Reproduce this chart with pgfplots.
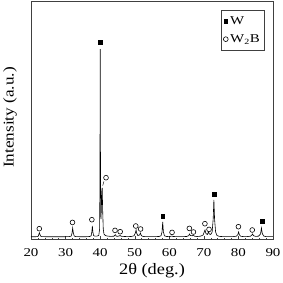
\documentclass[border=0pt]{standalone}
\usepackage{fontspec}
\setmainfont{Liberation Serif}
\usepackage{graphicx}
\usepackage{pgfplots}
\pgfplotsset{compat=1.18}
\newcommand\sx[1]{\scalebox{1.25}[1]{#1}}
\newcommand\sy[1]{\scalebox{1.15}[1]{#1}}
\begin{document}
\begin{tikzpicture}
\useasboundingbox (-31bp,-44bp) rectangle (252bp,239bp);
\begin{axis}[
  scale only axis, width=242bp, height=238bp,
  xmin=20, xmax=90, ymin=-2, ymax=236,
  xtick={20,30,...,90}, minor x tick num=4,
  xticklabels={\sx{20},\sx{30},\sx{40},\sx{50},\sx{60},\sx{70},\sx{80},\sx{90}},
  ytick=\empty, xtick pos=bottom, tick align=inside,
  major tick length=3bp, minor tick length=1.5bp,
  axis line style={black!75, line width=0.6pt},
  every tick/.style={black!75, line width=0.4pt},
  xticklabel style={font=\fontsize{12}{14}\selectfont, anchor=north, yshift=-6bp},
  xlabel={\sy{2θ (deg.)}}, ylabel={\sy{Intensity (a.u.)}},
  xlabel style={font=\fontsize{16}{18}\selectfont, at={(axis description cs:0.5,-0.10)}, anchor=north, inner sep=0pt},
  ylabel style={font=\fontsize{15}{17}\selectfont, at={(axis description cs:-0.058,0.51)}, anchor=south, inner sep=0pt},
  legend style={at={(axis description cs:0.963,0.962)}, anchor=north east,
    draw=black!75, inner xsep=2pt, inner ysep=4pt,
    row sep=5pt, legend cell align=left, font=\fontsize{12}{14}\selectfont},
]
\addplot[only marks, mark=square*, mark size=1.9pt, black] coordinates {
 (40.0,195) (58.1,20.6) (72.9,42.6) (86.8,15.6)};
\addlegendentry{\sx{W}}
\addplot[only marks, mark=o, mark size=2.4pt, black, mark options={line width=0.6pt}] coordinates {
 (22.4,8.3) (32.0,14.6) (37.6,17.3) (41.7,59.3) (44.3,6.6) (45.8,5.3)
 (50.3,11) (51.7,8) (60.8,4.6) (65.8,8.6) (67.0,5) (70.3,13.3) (71.5,7.6)
 (80.0,10.3) (84.0,7)};
\addlegendentry{\sx{W\textsubscript{2}B}}
\addplot[black, line width=0.6pt, forget plot] coordinates {
 (20,0.3) (21,0.2) (21.8,0.4) (22.1,0.8) (22.3,3) (22.45,4.2) (22.6,2.5) (22.8,0.8)
 (23.2,0.4) (24,0.3) (25,0.2) (26,0.3) (27,0.2) (28,0.3) (29,0.2) (30,0.3) (31,0.4)
 (31.6,0.8) (31.85,3.5) (32.05,9) (32.25,4) (32.5,1) (33,0.4) (34,0.3) (35,0.2) (36,0.3)
 (37,0.5) (37.4,1.2) (37.6,5) (37.75,11) (37.9,5) (38.1,1.5) (38.5,0.8) (39,0.8)
 (39.6,1.5) (39.85,8) (39.95,60) (40.02,188) (40.1,70) (40.25,18) (40.45,40) (40.6,49)
 (40.72,28) (40.9,8) (41.1,3) (41.5,1.5) (42,1) (43,0.6) (44,0.8) (44.3,2) (44.45,2.3)
 (44.6,1) (45,0.6) (45.6,1.2) (45.8,1.6) (46,0.8) (47,0.5) (48,0.4) (49,0.5) (49.8,1.2)
 (50.2,4) (50.4,7) (50.6,3.5) (50.9,1.5) (51.4,2) (51.65,4) (51.9,1.5) (52.3,0.6)
 (53,0.4) (54,0.3) (55,0.3) (56,0.4) (57,0.5) (57.6,1.2) (57.9,5) (58.1,15) (58.3,5)
 (58.6,1.2) (59.2,0.5) (60,0.4) (60.8,1) (61.1,0.5) (62,0.4) (63,0.3) (64,0.4) (65,0.5)
 (65.6,1.3) (65.85,3) (66.1,1.5) (66.7,1.2) (66.95,2) (67.3,0.8) (68,0.5) (69,0.8)
 (69.8,2) (70.2,6) (70.35,7) (70.6,3.5) (71.0,2.5) (71.35,5) (71.6,3) (72.0,2.5)
 (72.4,5) (72.7,18) (72.9,37) (73.1,18) (73.4,5) (73.8,1.5) (74.5,0.6) (75.5,0.4)
 (76.5,0.3) (77.5,0.4) (78.5,0.4) (79.4,0.8) (79.85,2.5) (80.05,5) (80.3,2) (80.7,0.7)
 (81.5,0.4) (82.5,0.4) (83.5,0.8) (83.9,2) (84.1,3) (84.35,1.3) (85,0.6) (85.8,0.8)
 (86.4,3) (86.65,9) (86.9,3.5) (87.3,1) (88,0.4) (89,0.3) (90,0.3)};
\addplot[black, line width=0.4pt, forget plot] coordinates {(41.1,55.6) (40.74,51.3)};
\end{axis}
\end{tikzpicture}
\end{document}
